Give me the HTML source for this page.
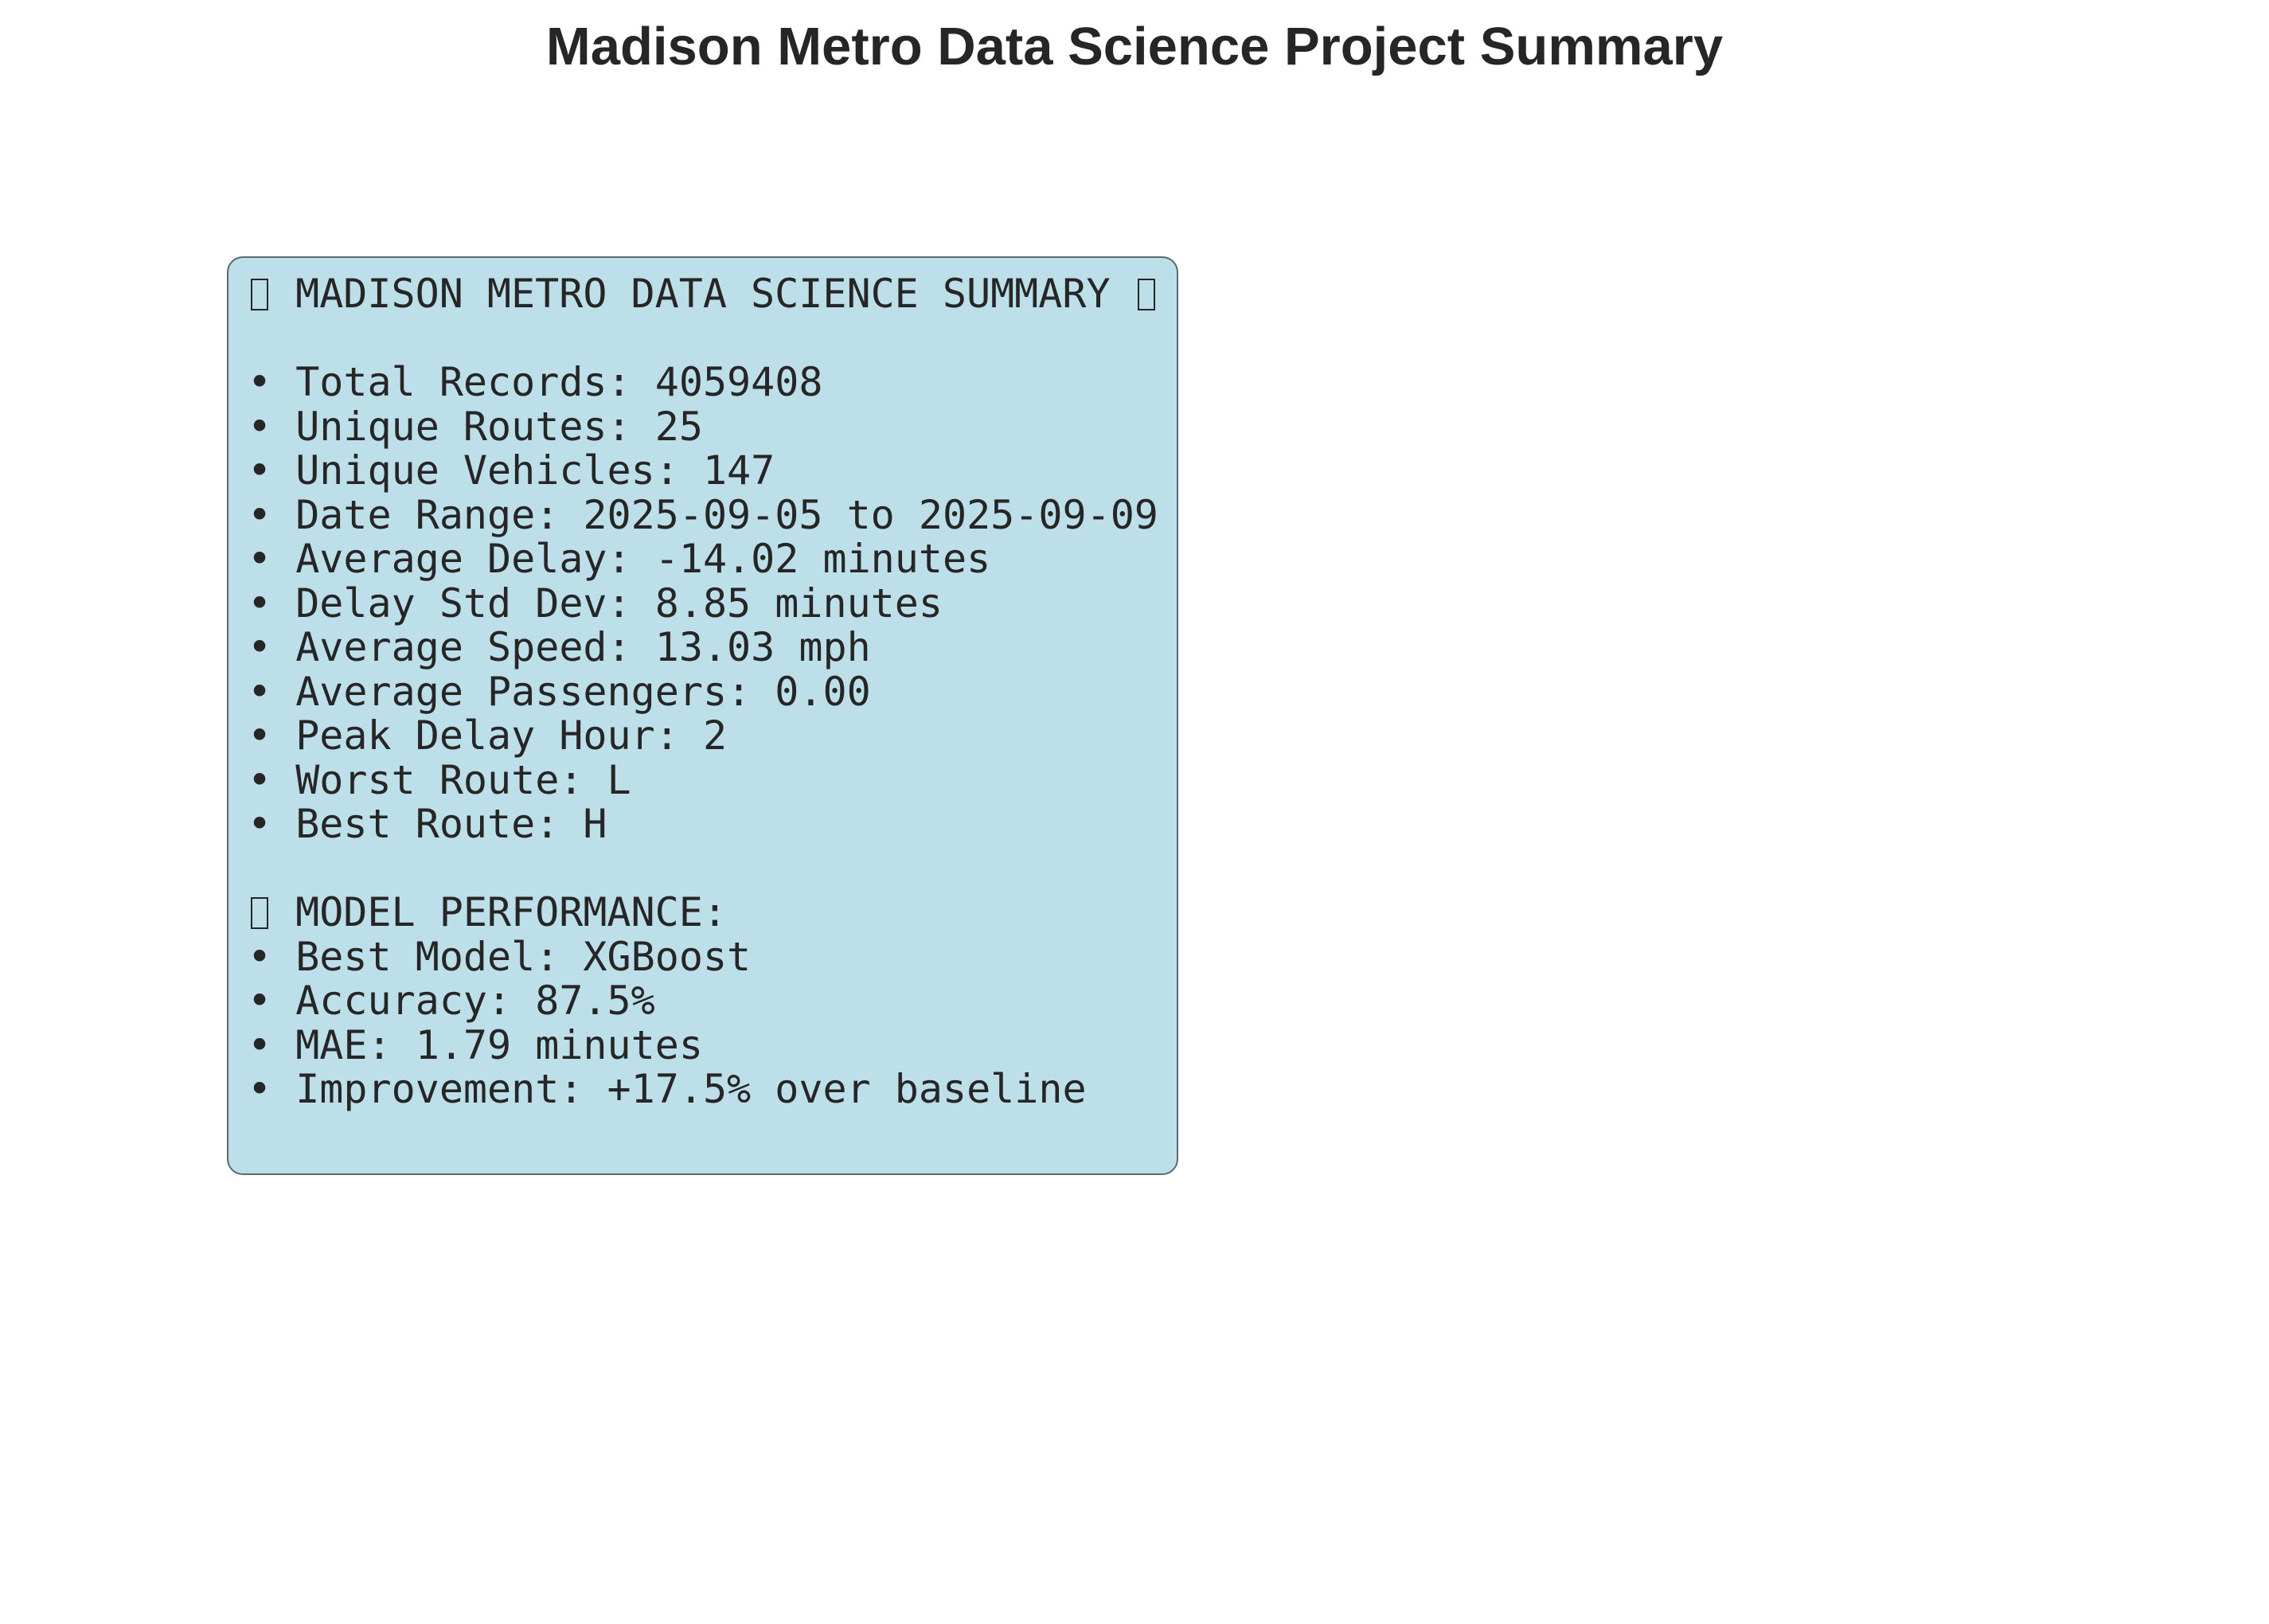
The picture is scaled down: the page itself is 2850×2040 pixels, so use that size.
<!DOCTYPE html>
<html><head><meta charset="utf-8"><style>
html,body{margin:0;padding:0;background:#fff;}
#page{position:relative;width:2850px;height:2040px;overflow:hidden;background:#fff;}
#title{position:absolute;left:0;width:2850px;top:19px;text-align:center;font-family:"Liberation Sans",Arial,sans-serif;font-weight:bold;font-size:67px;color:#262626;line-height:80px;}
#box{position:absolute;left:285px;top:322px;width:1195px;height:1154px;background:#bddfea;border:2px solid #5a6a70;border-radius:20px;box-sizing:border-box;}
#txt{position:absolute;left:311px;top:342px;margin:0;font-family:"DejaVu Sans Mono","Liberation Mono",monospace;font-size:50px;line-height:55.5px;color:#262626;white-space:pre;}
.tofu{display:inline-block;width:22px;height:40px;border:2px solid #262626;box-sizing:border-box;vertical-align:-4px;margin:0 4px;}
</style></head><body>
<div id="page">
<div id="title">Madison Metro Data Science Project Summary</div>
<div id="box"></div>
<pre id="txt"><span class="tofu"></span> MADISON METRO DATA SCIENCE SUMMARY <span class="tofu"></span>

• Total Records: 4059408
• Unique Routes: 25
• Unique Vehicles: 147
• Date Range: 2025-09-05 to 2025-09-09
• Average Delay: -14.02 minutes
• Delay Std Dev: 8.85 minutes
• Average Speed: 13.03 mph
• Average Passengers: 0.00
• Peak Delay Hour: 2
• Worst Route: L
• Best Route: H

<span class="tofu"></span> MODEL PERFORMANCE:
• Best Model: XGBoost
• Accuracy: 87.5%
• MAE: 1.79 minutes
• Improvement: +17.5% over baseline</pre>
</div>
</body></html>
